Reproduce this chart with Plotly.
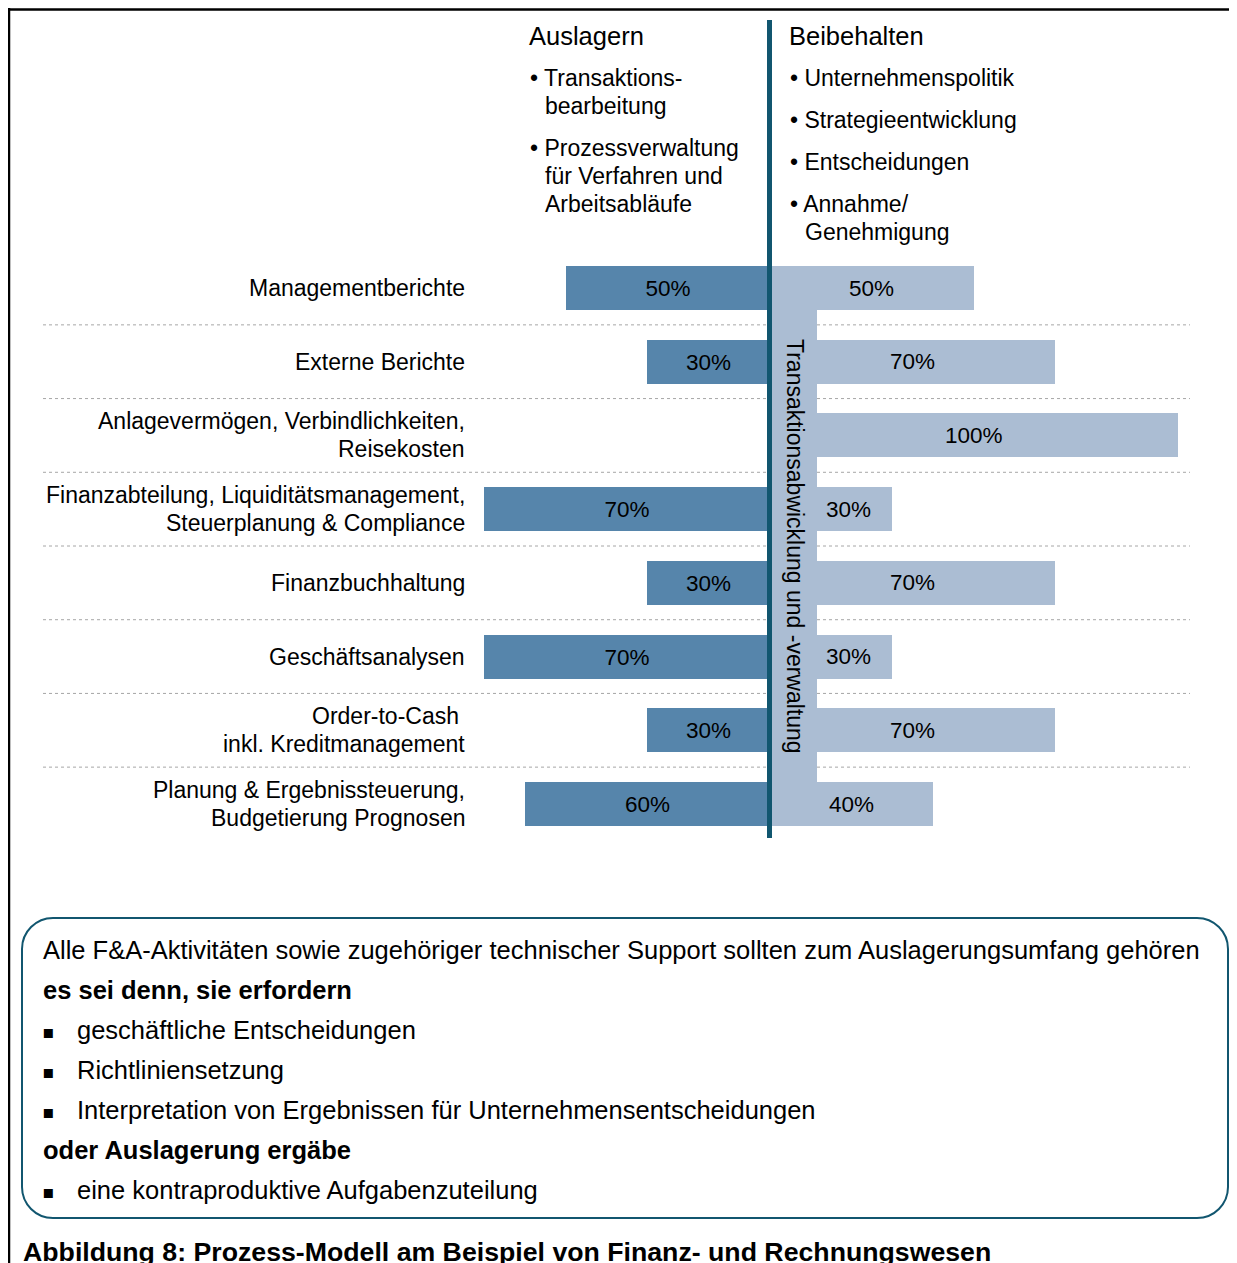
import plotly.graph_objects as go

W, H = 1237, 1263          # browser window
PAGE_OFF = 8               # default body margin of the html page
FW, FH = W - PAGE_OFF, H - PAGE_OFF

# ---------------- data ----------------
categories = [
    "Managementberichte",
    "Externe Berichte",
    "Anlagevermögen, Verbindlichkeiten,<br>Reisekosten",
    "Finanzabteilung, Liquiditätsmanagement,<br>Steuerplanung & Compliance",
    "Finanzbuchhaltung",
    "Geschäftsanalysen",
    "Order-to-Cash\u00a0<br>inkl. Kreditmanagement",
    "Planung & Ergebnissteuerung,<br>Budgetierung Prognosen",
]
auslagern = [50, 30, 0, 70, 30, 70, 30, 60]
beibehalten = [50, 70, 100, 30, 70, 30, 70, 40]

left_header = "Auslagern"
left_points = [["Transaktions-", "bearbeitung"],
               ["Prozessverwaltung", "für Verfahren und", "Arbeitsabläufe"]]
right_header = "Beibehalten"
right_points = [["Unternehmenspolitik"], ["Strategieentwicklung"],
                ["Entscheidungen"], ["Annahme/", "Genehmigung"]]
strip_label = "Transaktionsabwicklung und -verwaltung"

box_lines = [
    ("plain", "Alle F&A-Aktivitäten sowie zugehöriger technischer Support sollten zum Auslagerungsumfang gehören"),
    ("bold", "es sei denn, sie erfordern"),
    ("bullet", "geschäftliche Entscheidungen"),
    ("bullet", "Richtliniensetzung"),
    ("bullet", "Interpretation von Ergebnissen für Unternehmensentscheidungen"),
    ("bold", "oder Auslagerung ergäbe"),
    ("bullet", "eine kontraproduktive Aufgabenzuteilung"),
]
caption = "Abbildung 8: Prozess-Modell am Beispiel von Finanz- und Rechnungswesen"

# ---------------- styling / geometry ----------------
FONT = "Liberation Sans, Arial, Helvetica, sans-serif"
DARK = "#5685ab"
LIGHT = "#abbdd3"
TEAL = "#11566f"
DOT = "#a6a6a6"

CENTER_PX = 769.5
PX_PER_PCT = 4.08
ROW0_PX = 288.0
ROW_STEP = 73.714
BAR_W = 44 / ROW_STEP
STRIP_W = (817 - CENTER_PX) / PX_PER_PCT
RIGHT_LABEL_MIN = 19.3

x_range = [(PAGE_OFF - CENTER_PX) / PX_PER_PCT, (W - CENTER_PX) / PX_PER_PCT]
y_range = [(H - ROW0_PX) / ROW_STEP, (PAGE_OFF - ROW0_PX) / ROW_STEP]


def px(x):
    return (x - PAGE_OFF) / FW


def py(y):
    return 1 - (y - PAGE_OFF) / FH


rows = list(range(len(categories)))

fig = go.Figure()
fig.add_trace(go.Bar(
    y=rows, x=[-v for v in auslagern], orientation="h", width=BAR_W,
    marker=dict(color=DARK, line=dict(width=0)),
    text=[f"{v}%" if v else "" for v in auslagern],
    textposition="inside", insidetextanchor="middle", textangle=0,
    constraintext="none",
    textfont=dict(family=FONT, size=22.5, color="black"),
    hoverinfo="skip", showlegend=False,
))
fig.add_trace(go.Bar(
    y=rows, x=beibehalten, orientation="h", width=BAR_W,
    marker=dict(color=LIGHT, line=dict(width=0)),
    textposition="none",
    hoverinfo="skip", showlegend=False,
))

annotations = []
shapes = []

# right bar labels
for i, v in enumerate(beibehalten):
    annotations.append(dict(
        x=max(v / 2, RIGHT_LABEL_MIN), y=i, xref="x", yref="y",
        text=f"{v}%", showarrow=False, xanchor="center", yanchor="middle",
        font=dict(family=FONT, size=22.5, color="black")))

# category labels
LABEL_RIGHT = (466 - CENTER_PX) / PX_PER_PCT
LINE = 28 / ROW_STEP
for i, cat in enumerate(categories):
    parts = cat.split("<br>")
    k = len(parts)
    for j, p in enumerate(parts):
        annotations.append(dict(
            x=LABEL_RIGHT, y=i + (j - (k - 1) / 2) * LINE, xref="x", yref="y",
            text=p, showarrow=False, xanchor="right", yanchor="middle", borderpad=0,
            font=dict(family=FONT, size=23, color="black")))

# dotted separators
for i in range(len(categories) - 1):
    shapes.append(dict(type="line", xref="paper", yref="y",
                       x0=px(43), x1=px(1190), y0=i + 0.5, y1=i + 0.5,
                       line=dict(color=DOT, width=1, dash="dot"), layer="below"))

# strip behind
shapes.append(dict(type="rect", xref="x", yref="y", x0=0, x1=STRIP_W,
                   y0=-BAR_W / 2, y1=len(categories) - 1 + BAR_W / 2,
                   fillcolor=LIGHT, line=dict(width=0), layer="below"))
annotations.append(dict(
    x=(795 - CENTER_PX) / PX_PER_PCT, y=3.5, xref="x", yref="y",
    text=strip_label, textangle=90, showarrow=False,
    xanchor="center", yanchor="middle",
    font=dict(family=FONT, size=23, color="black")))

# centre line
shapes.append(dict(type="line", xref="x", yref="paper", x0=0, x1=0,
                   y0=py(20), y1=py(838), line=dict(color=TEAL, width=5),
                   layer="above"))


# headers
def header_block(x0, header, points):
    annotations.append(dict(
        x=px(x0 - 1), y=py(36), xref="paper", yref="paper", text=header,
        showarrow=False, xanchor="left", yanchor="middle", borderpad=0,
        font=dict(family=FONT, size=25.5, color="black")))
    y = 78
    for point in points:
        for j, line in enumerate(point):
            annotations.append(dict(
                x=px(x0 if j == 0 else x0 + 14.5), y=py(y), xref="paper", yref="paper",
                text=("\u2022 " + line) if j == 0 else line,
                showarrow=False, xanchor="left", yanchor="middle", borderpad=0,
                font=dict(family=FONT, size=23, color="black")))
            y += 28
        y += 14


header_block(529, left_header, left_points)
header_block(789, right_header, right_points)


# rounded box
def rounded_path(x0, y0, x1, y1, r):
    k = 0.5523 * r
    pts = [
        f"M{px(x0 + r)},{py(y0)}",
        f"L{px(x1 - r)},{py(y0)}",
        f"C{px(x1 - r + k)},{py(y0)} {px(x1)},{py(y0 + r - k)} {px(x1)},{py(y0 + r)}",
        f"L{px(x1)},{py(y1 - r)}",
        f"C{px(x1)},{py(y1 - r + k)} {px(x1 - r + k)},{py(y1)} {px(x1 - r)},{py(y1)}",
        f"L{px(x0 + r)},{py(y1)}",
        f"C{px(x0 + r - k)},{py(y1)} {px(x0)},{py(y1 - r + k)} {px(x0)},{py(y1 - r)}",
        f"L{px(x0)},{py(y0 + r)}",
        f"C{px(x0)},{py(y0 + r - k)} {px(x0 + r - k)},{py(y0)} {px(x0 + r)},{py(y0)}",
        "Z",
    ]
    return " ".join(pts)


shapes.append(dict(type="path", xref="paper", yref="paper",
                   path=rounded_path(22, 918, 1228, 1218, 31),
                   line=dict(color=TEAL, width=2), fillcolor="rgba(0,0,0,0)"))

y = 950
for kind, txt in box_lines:
    if kind == "bullet":
        annotations.append(dict(
            x=px(48), y=py(y + 1), xref="paper", yref="paper", text="\u25aa",
            showarrow=False, xanchor="center", yanchor="middle", borderpad=0,
            font=dict(family="DejaVu Sans", size=18, color="black")))
        annotations.append(dict(
            x=px(75.5), y=py(y), xref="paper", yref="paper", text=txt,
            showarrow=False, xanchor="left", yanchor="middle", borderpad=0,
            font=dict(family=FONT, size=25.5, color="black")))
    else:
        annotations.append(dict(
            x=px(42), y=py(y), xref="paper", yref="paper",
            text=f"<b>{txt}</b>" if kind == "bold" else txt,
            showarrow=False, xanchor="left", yanchor="middle", borderpad=0,
            font=dict(family=FONT, size=25.5, color="black")))
    y += 40

# caption
annotations.append(dict(
    x=px(22), y=py(1252), xref="paper", yref="paper", text=f"<b>{caption}</b>",
    showarrow=False, xanchor="left", yanchor="middle", borderpad=0,
    font=dict(family=FONT, size=26.7, color="black")))

# outer frame
shapes.append(dict(type="line", xref="paper", yref="paper", x0=px(9), x1=px(9),
                   y0=py(8), y1=py(H + 5), line=dict(color="black", width=2.5)))
shapes.append(dict(type="line", xref="paper", yref="paper", x0=px(8), x1=px(W + 5),
                   y0=py(9.5), y1=py(9.5), line=dict(color="black", width=2.5)))

fig.update_layout(
    width=FW, height=FH, margin=dict(l=0, r=0, t=0, b=0),
    paper_bgcolor="white", plot_bgcolor="white",
    barmode="overlay", bargap=0, showlegend=False,
    xaxis=dict(range=x_range, visible=False, fixedrange=True),
    yaxis=dict(range=y_range, visible=False, fixedrange=True),
    annotations=annotations, shapes=shapes,
    font=dict(family=FONT, color="black"),
)

fig.write_html("out.html")
